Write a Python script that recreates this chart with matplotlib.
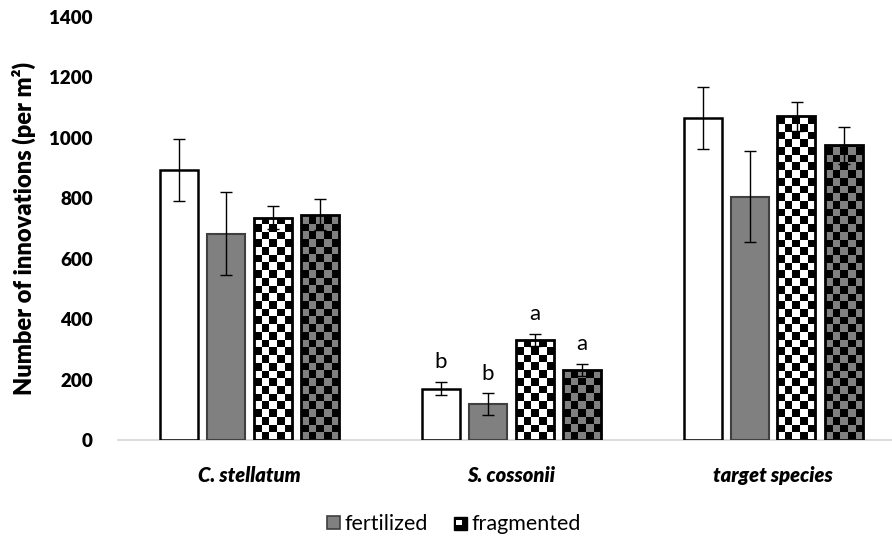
import numpy as np
import matplotlib
matplotlib.use("Agg")
import matplotlib.pyplot as plt
from matplotlib.colors import ListedColormap
from matplotlib.patches import Rectangle
from matplotlib.legend_handler import HandlerBase

# ---- data --------------------------------------------------------------
species = ["C. stellatum", "S. cossonii", "target species"]
control = [893, 170, 1065]
control_err = [103, 22, 103]
fertilized = [683, 118, 805]
fertilized_err = [137, 36, 150]
fragmented = [736, 332, 1071]
fragmented_err = [38, 20, 47]
fert_frag = [745, 232, 975]
fert_frag_err = [51, 20, 62]
letters = {1: ["b", "b", "a", "a"]}

plt.rcParams["font.family"] = ["Lato", "DejaVu Sans"]

fig = plt.figure(figsize=(8.92, 5.40), dpi=100)
ax = fig.add_axes([118 / 892, 100 / 540, 786 / 892, 423 / 540])

x = np.arange(len(species))
step = 47 / 262
width = 38 / 262
GRAY = "#808080"

series = [
    (control, control_err, "white", "black", 1.8, None),
    (fertilized, fertilized_err, GRAY, "#404040", 1.5, None),
    (fragmented, fragmented_err, "white", "black", 2.0, "white"),
    (fert_frag, fert_frag_err, GRAY, "black", 2.0, GRAY),
]

cell_x = 7.7 / 262            # checker cell in category units
cell_y = 7.7 * 1400 / 423     # checker cell in value units


def checker_fill(bar, light):
    x0, w, h = bar.get_x(), bar.get_width(), bar.get_height()
    nx = int(np.ceil(w / cell_x)) + 1
    ny = int(np.ceil(h / cell_y)) + 1
    grid = (np.add.outer(np.arange(ny), np.arange(nx)) % 2)
    im = ax.imshow(grid, extent=(x0, x0 + nx * cell_x, 0, ny * cell_y),
                   origin="lower", cmap=ListedColormap([light, "black"]),
                   interpolation="nearest", aspect="auto", zorder=2.5)
    im.set_clip_path(bar)


for k, (vals, errs, fc, ec, lw, light) in enumerate(series):
    pos = x + (k - 1.5) * step
    bars = ax.bar(pos, vals, width, color=fc, zorder=2)
    if light is not None:
        for b in bars:
            checker_fill(b, light)
    ax.bar(pos, vals, width, fill=False, edgecolor=ec, linewidth=lw, zorder=3)
    ax.errorbar(pos, vals, yerr=errs, fmt="none", ecolor="black",
                elinewidth=1.0, capsize=4.2, capthick=1.0, zorder=4)
    for i, lab in letters.items():
        ax.annotate(lab[k], (pos[i], vals[i] + errs[i]), xytext=(0, 7),
                    textcoords="offset points", ha="center", va="bottom",
                    fontsize=16)

ax.set_xlim(-0.5, 2.5)
ax.set_ylim(0, 1400)
ax.set_yticks(range(0, 1401, 200))
ax.set_xticks(x)
ax.set_xticklabels(species, fontweight="heavy", fontstyle="italic", fontsize=14.5)
ax.tick_params(axis="x", length=0, pad=19)
ax.tick_params(axis="y", length=0, pad=18, labelsize=13.5)
for t in ax.get_yticklabels():
    t.set_fontweight("heavy")

for side in ["top", "right", "left"]:
    ax.spines[side].set_visible(False)
ax.spines["bottom"].set_color("#d9d9d9")
ax.spines["bottom"].set_linewidth(1.3)

ax.set_ylabel("Number of innovations (per m²)", fontsize=17, fontweight="heavy")
ax.yaxis.set_label_coords(-82 / 786, 0.5)


# legend: gray square and a small checker square
class CheckerHandler(HandlerBase):
    def create_artists(self, legend, orig, xd, yd, w, h, fs, trans):
        s = min(w, h)
        x0 = xd + (w - s) / 2
        y0 = yd + (h - s) / 2
        outer = Rectangle((x0, y0), s, s, facecolor="black", edgecolor="black",
                          linewidth=1.0, transform=trans)
        inner = Rectangle((x0 + s * 0.18, y0 + s * 0.45), s * 0.42, s * 0.37,
                          facecolor="white", edgecolor="none", transform=trans)
        return [outer, inner]


h_fert = Rectangle((0, 0), 1, 1, facecolor=GRAY, edgecolor="#404040", linewidth=1.2)
h_frag = Rectangle((0, 0), 1, 1, facecolor="black")
fig.legend([h_fert, h_frag], ["fertilized", "fragmented"],
           loc="center", bbox_to_anchor=(454 / 892, 1 - 524 / 540), ncol=2,
           frameon=False, fontsize=15.5, handlelength=0.6, handleheight=0.6,
           handletextpad=0.2, columnspacing=1.2,
           handler_map={h_frag: CheckerHandler()})

fig.savefig("out.png", dpi=100)
